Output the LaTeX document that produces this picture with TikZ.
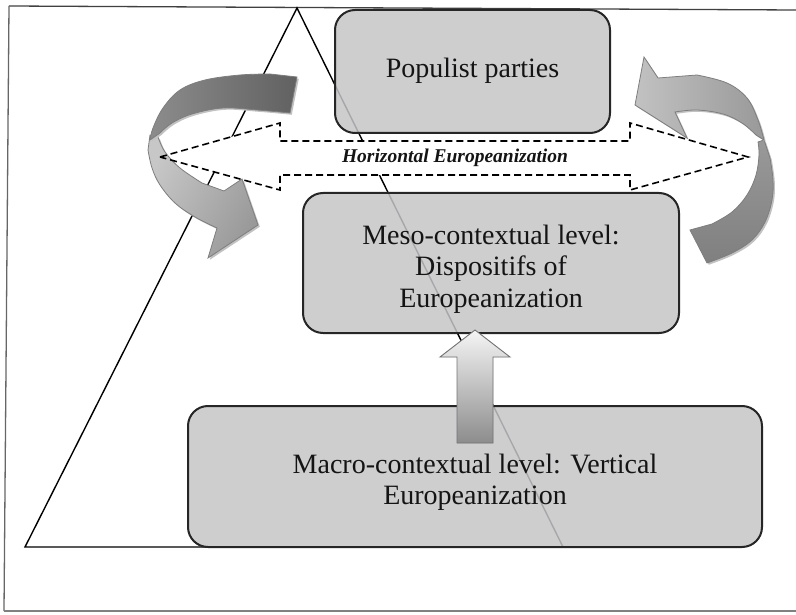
\documentclass[tikz,border=0pt]{standalone}
\usepackage{fontspec}
\setmainfont{Liberation Serif}
\definecolor{boxfill}{HTML}{C5C5C7}
\definecolor{boxline}{HTML}{262626}
\definecolor{txt}{HTML}{141414}
\definecolor{ribbonedge}{HTML}{7E7E7E}
\definecolor{ribbonshadow}{HTML}{C2C2C2}
\tikzset{
  levelbox/.style={draw=boxline, line width=2pt, fill=boxfill, fill opacity=0.85,
    rounded corners=20pt, inner sep=0pt},
  leveltext/.style={text=txt, align=center, inner sep=0pt,
    font=\fontsize{28}{31.5}\selectfont},
  ribbon/.style={draw=ribbonedge, line width=0.8pt},
  ribbonshade/.style={fill=ribbonshadow},
  dashedarrow/.style={draw=black, line width=1.6pt, dash pattern=on 7pt off 4pt},
  triangleline/.style={draw=black, line width=1.4pt},
}
\begin{document}
\begin{tikzpicture}[x=1pt,y=-1pt]
\useasboundingbox (0,0) rectangle (796,615);

% page frame
\draw[line width=1.3pt, draw=black!75] (9,6) -- (796,10);
\draw[line width=1.3pt, draw=black!60] (9,6) -- (4,611);
\draw[line width=1.3pt, draw=black!50] (4,611) -- (796,611);

% pyramid
\coordinate (apex) at (297,8);
\coordinate (baseL) at (25,547);
\coordinate (baseR) at (563,547);
\draw[triangleline, line join=miter] (baseR) -- (apex) -- (baseL) -- (baseR);

% the three levels
\node[levelbox, minimum width=275, minimum height=123] (populist) at (472.5,71.5) {};
\node[leveltext] (populisttext) at ([yshift=1pt]populist.center) {Populist parties};
\node[levelbox, minimum width=376, minimum height=140] (meso) at (491,263) {};
\node[leveltext] (mesotext) at ([yshift=-6pt]meso.center)
  {Meso-contextual level:\\Dispositifs of\\Europeanization};
\node[levelbox, minimum width=574, minimum height=141] (macro) at (475,476.5) {};
\node[leveltext] (macrotext) at ([yshift=-6pt]macro.center)
  {Macro-contextual level: Vertical\\Europeanization};

% horizontal double arrow (white body)
\coordinate (hl) at (160,157);
\coordinate (hr) at (748,157);
\fill[white] (hl) -- (280,123) -- (280,141) -- (630,141) -- (630,123) -- (hr)
  -- (630,190) -- (630,175) -- (280,175) -- (280,190) -- cycle;

% left curved ribbon arrow
\fill[ribbonshade, shift={(1.8,1.8)}] (150,135) -- plot[smooth, tension=0.6] coordinates
  {(148,150) (152,168) (160,185) (175,203) (195,217) (217,228)} -- (208,258) -- (258,225) -- (242,179) -- (224,191)
  -- plot[smooth, tension=0.6] coordinates {(202,183) (180,168) (165,152) (158,137)} -- cycle;
\path[ribbon, left color=black!22, right color=black!40, shading angle=60]
  (150,135) -- plot[smooth, tension=0.6] coordinates
  {(148,150) (152,168) (160,185) (175,203) (195,217) (217,228)} -- (208,258) -- (258,225) -- (242,179) -- (224,191)
  -- plot[smooth, tension=0.6] coordinates {(202,183) (180,168) (165,152) (158,137)} -- cycle;
\fill[ribbonshade, shift={(1.8,1.8)}] (297,77) -- plot[smooth, tension=0.6] coordinates
  {(270,74) (240,75) (205,80) (180,90) (163,108) (153,128) (150,140)}
  -- plot[smooth, tension=0.6] coordinates {(160,133) (172,123) (192,114) (223,108) (257,110) (290,113)} -- cycle;
\path[ribbon, left color=black!45, middle color=black!30, right color=black!62]
  (297,77) -- plot[smooth, tension=0.6] coordinates
  {(270,74) (240,75) (205,80) (180,90) (163,108) (153,128) (150,140)}
  -- plot[smooth, tension=0.6] coordinates {(160,133) (172,123) (192,114) (223,108) (257,110) (290,113)} -- cycle;

% right curved ribbon arrow
\fill[ribbonshade, shift={(1.8,1.8)}] (764,140) -- plot[smooth, tension=0.6] coordinates
  {(770,158) (773,180) (772,200) (765,222) (752,240) (732,253) (707,263)}
  -- (690,230) -- plot[smooth, tension=0.6] coordinates {(712,224) (732,212) (747,195) (756,175) (759,155) (758,142)} -- cycle;
\path[ribbon, top color=black!40, bottom color=black!50]
  (764,140) -- plot[smooth, tension=0.6] coordinates
  {(770,158) (773,180) (772,200) (765,222) (752,240) (732,253) (707,263)}
  -- (690,230) -- plot[smooth, tension=0.6] coordinates {(712,224) (732,212) (747,195) (756,175) (759,155) (758,142)} -- cycle;
\fill[ribbonshade, shift={(1.8,1.8)}] (635,105) -- (644,57) -- (658,78)
  -- plot[smooth, tension=0.6] coordinates {(697,75) (727,83) (747,98) (758,120) (764,140)}
  -- plot[smooth, tension=0.6] coordinates {(756,135) (742,123) (723,114) (697,110) (675,112)}
  -- (687,138) -- cycle;
\path[ribbon, left color=black!24, right color=black!40]
  (635,105) -- (644,57) -- (658,78)
  -- plot[smooth, tension=0.6] coordinates {(697,75) (727,83) (747,98) (758,120) (764,140)}
  -- plot[smooth, tension=0.6] coordinates {(756,135) (742,123) (723,114) (697,110) (675,112)}
  -- (687,138) -- cycle;

% horizontal double arrow (dashed outline) and its label
\draw[dashedarrow, line join=miter] (hl) -- (280,123) -- (280,141) -- (630,141) -- (630,123) -- (hr)
  -- (630,190) -- (630,175) -- (280,175) -- (280,190) -- cycle;
\node[font=\fontsize{19.5}{22}\selectfont\bfseries\itshape, text=txt] (hlabel) at (455,158)
  {Horizontal Europeanization};

% vertical arrow from the macro level up to the meso level
\coordinate (vtip) at (475,330);
\fill[black!30, shift={(2,2)}] (vtip) -- ++(35,27) -- ++(-17,0) -- ++(0,86) -- ++(-36,0)
  -- ++(0,-86) -- ++(-17,0) -- cycle;
\path[draw=black!55, line width=0.9pt, top color=black!4, bottom color=black!45]
  (vtip) -- ++(35,27) -- ++(-17,0) -- ++(0,86) -- ++(-36,0)
  -- ++(0,-86) -- ++(-17,0) -- cycle;
\end{tikzpicture}
\end{document}
